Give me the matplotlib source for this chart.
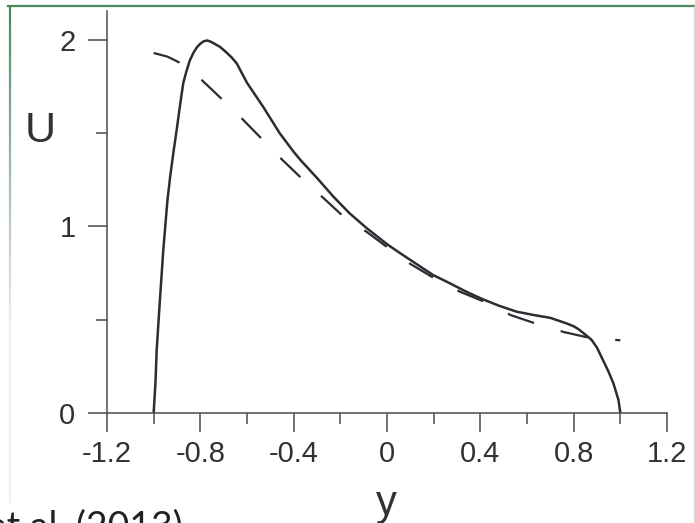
import matplotlib
matplotlib.use('Agg')
import matplotlib.pyplot as plt
from matplotlib.lines import Line2D
from matplotlib.collections import LineCollection
import numpy as np

# solid curve
solid_y = [-1.0, -0.992, -0.987, -0.973, -0.959, -0.941, -0.929, -0.915, -0.90, -0.887,
           -0.873, -0.86, -0.845, -0.83, -0.815, -0.80, -0.785, -0.77, -0.755, -0.74,
           -0.716, -0.69, -0.665, -0.644, -0.60, -0.53, -0.46, -0.40, -0.37, -0.30,
           -0.23, -0.16, -0.086, 0.0, 0.056, 0.12, 0.197, 0.27, 0.34, 0.41,
           0.48, 0.556, 0.63, 0.70, 0.77, 0.80, 0.82, 0.84, 0.86, 0.878,
           0.90, 0.927, 0.95, 0.97, 0.992, 1.0]
solid_u = [0.0, 0.17, 0.34, 0.61, 0.87, 1.14, 1.27, 1.40, 1.53, 1.65,
           1.77, 1.83, 1.89, 1.93, 1.96, 1.98, 1.993, 1.997, 1.99, 1.98,
           1.963, 1.935, 1.905, 1.874, 1.77, 1.64, 1.50, 1.40, 1.355, 1.26,
           1.16, 1.07, 0.99, 0.905, 0.857, 0.804, 0.74, 0.695, 0.65, 0.61,
           0.575, 0.543, 0.525, 0.51, 0.48, 0.465, 0.45, 0.43, 0.41, 0.39,
           0.35, 0.28, 0.22, 0.16, 0.07, 0.0]

# dashed curve
dashed_y = [-1.0, -0.94, -0.887, -0.794, -0.708, -0.623, -0.537, -0.451, -0.366, -0.279,
            -0.189, -0.086, 0.004, 0.099, 0.206, 0.313, 0.42, 0.53, 0.643, 0.758,
            0.878, 1.0]
dashed_u = [1.93, 1.91, 1.877, 1.785, 1.683, 1.58, 1.47, 1.36, 1.258, 1.16,
            1.056, 0.97, 0.886, 0.80, 0.72, 0.65, 0.595, 0.525, 0.477, 0.434,
            0.40, 0.39]

x_major = [-1.2, -0.8, -0.4, 0.0, 0.4, 0.8, 1.2]
x_labels = ['-1.2', '-0.8', '-0.4', '0', '0.4', '0.8', '1.2']
x_minor = [-1.0, -0.6, -0.2, 0.2, 0.6, 1.0]
u_major = [0, 1, 2]
u_labels = ['0', '1', '2']
u_minor = [0.5, 1.5]

plt.rcParams['font.family'] = ['Liberation Sans', 'DejaVu Sans']
plt.rcParams['lines.scale_dashes'] = False

ink = '#2b2d33'
axis_col = '#4a4c52'

W, H = 695, 523
fig = plt.figure(figsize=(W / 100, H / 100), dpi=100)
ax = fig.add_axes([107 / W, 1 - 413 / H, 560 / W, (413 - 11) / H])

ax.plot(solid_y, solid_u, color=ink, lw=1.8, solid_capstyle='butt',
        solid_joinstyle='round', clip_on=False)
ax.plot(dashed_y, dashed_u, color=ink, lw=1.6, dashes=(20, 20), dash_capstyle='butt',
        clip_on=False)

ax.set_xlim(-1.2, 1.2)
ax.set_ylim(0, 2.155)

for s in ['top', 'right']:
    ax.spines[s].set_visible(False)
for s in ['left', 'bottom']:
    ax.spines[s].set_color(axis_col)
    ax.spines[s].set_linewidth(1.1)

ax.set_xticks(x_major)
ax.set_xticklabels(x_labels)
ax.set_xticks(x_minor, minor=True)
ax.set_yticks(u_major)
ax.set_yticklabels(u_labels)
ax.set_yticks(u_minor, minor=True)

ax.tick_params(which='major', direction='out', length=13.7, width=1.1, color=axis_col,
               labelsize=21, labelcolor='#303236')
ax.tick_params(which='minor', direction='out', length=7.6, width=1.1, color=axis_col)
ax.tick_params(axis='x', which='major', pad=6)
ax.tick_params(axis='y', which='major', pad=9)

# axis labels placed as in the picture
ax.text(40 / W, 1 - 131 / H, 'U', transform=fig.transFigure, fontsize=31,
        ha='center', va='center', color='#303236')
ax.text(386 / W, 1 - 504 / H, 'y', transform=fig.transFigure, fontsize=30,
        ha='center', va='center', color='#303236')

# cut-off caption at the bottom left
fig.text(183 / W, 1 - 509 / H, 'et al. (2013)', fontsize=27, family=['Lato', 'DejaVu Sans'],
         ha='right', va='top', color='#222222')

# slide frame: green top edge, fading left edge, grey right edge
fig.add_artist(Line2D([8 / W, 1.0], [1 - 6 / H, 1 - 6 / H], transform=fig.transFigure,
                      color='#4d875c', lw=1.6))
n = 30
ys = np.linspace(1 - 6 / H, 1 - 503 / H, n + 1)
segs = [[(9.5 / W, ys[i]), (9.5 / W, ys[i + 1])] for i in range(n)]
c0 = np.array([0.30, 0.53, 0.36])
c1 = np.array([0.93, 0.94, 0.93])
cols = [tuple(c0 + (c1 - c0) * min(1.0, (i / n) * 1.6)) for i in range(n)]
fig.add_artist(LineCollection(segs, colors=cols, linewidths=1.6, transform=fig.transFigure))
fig.add_artist(Line2D([694 / W, 694 / W], [1 - 6 / H, 0], transform=fig.transFigure,
                      color='#d4d6d4', lw=0.8))

fig.savefig('out.png', dpi=100)
